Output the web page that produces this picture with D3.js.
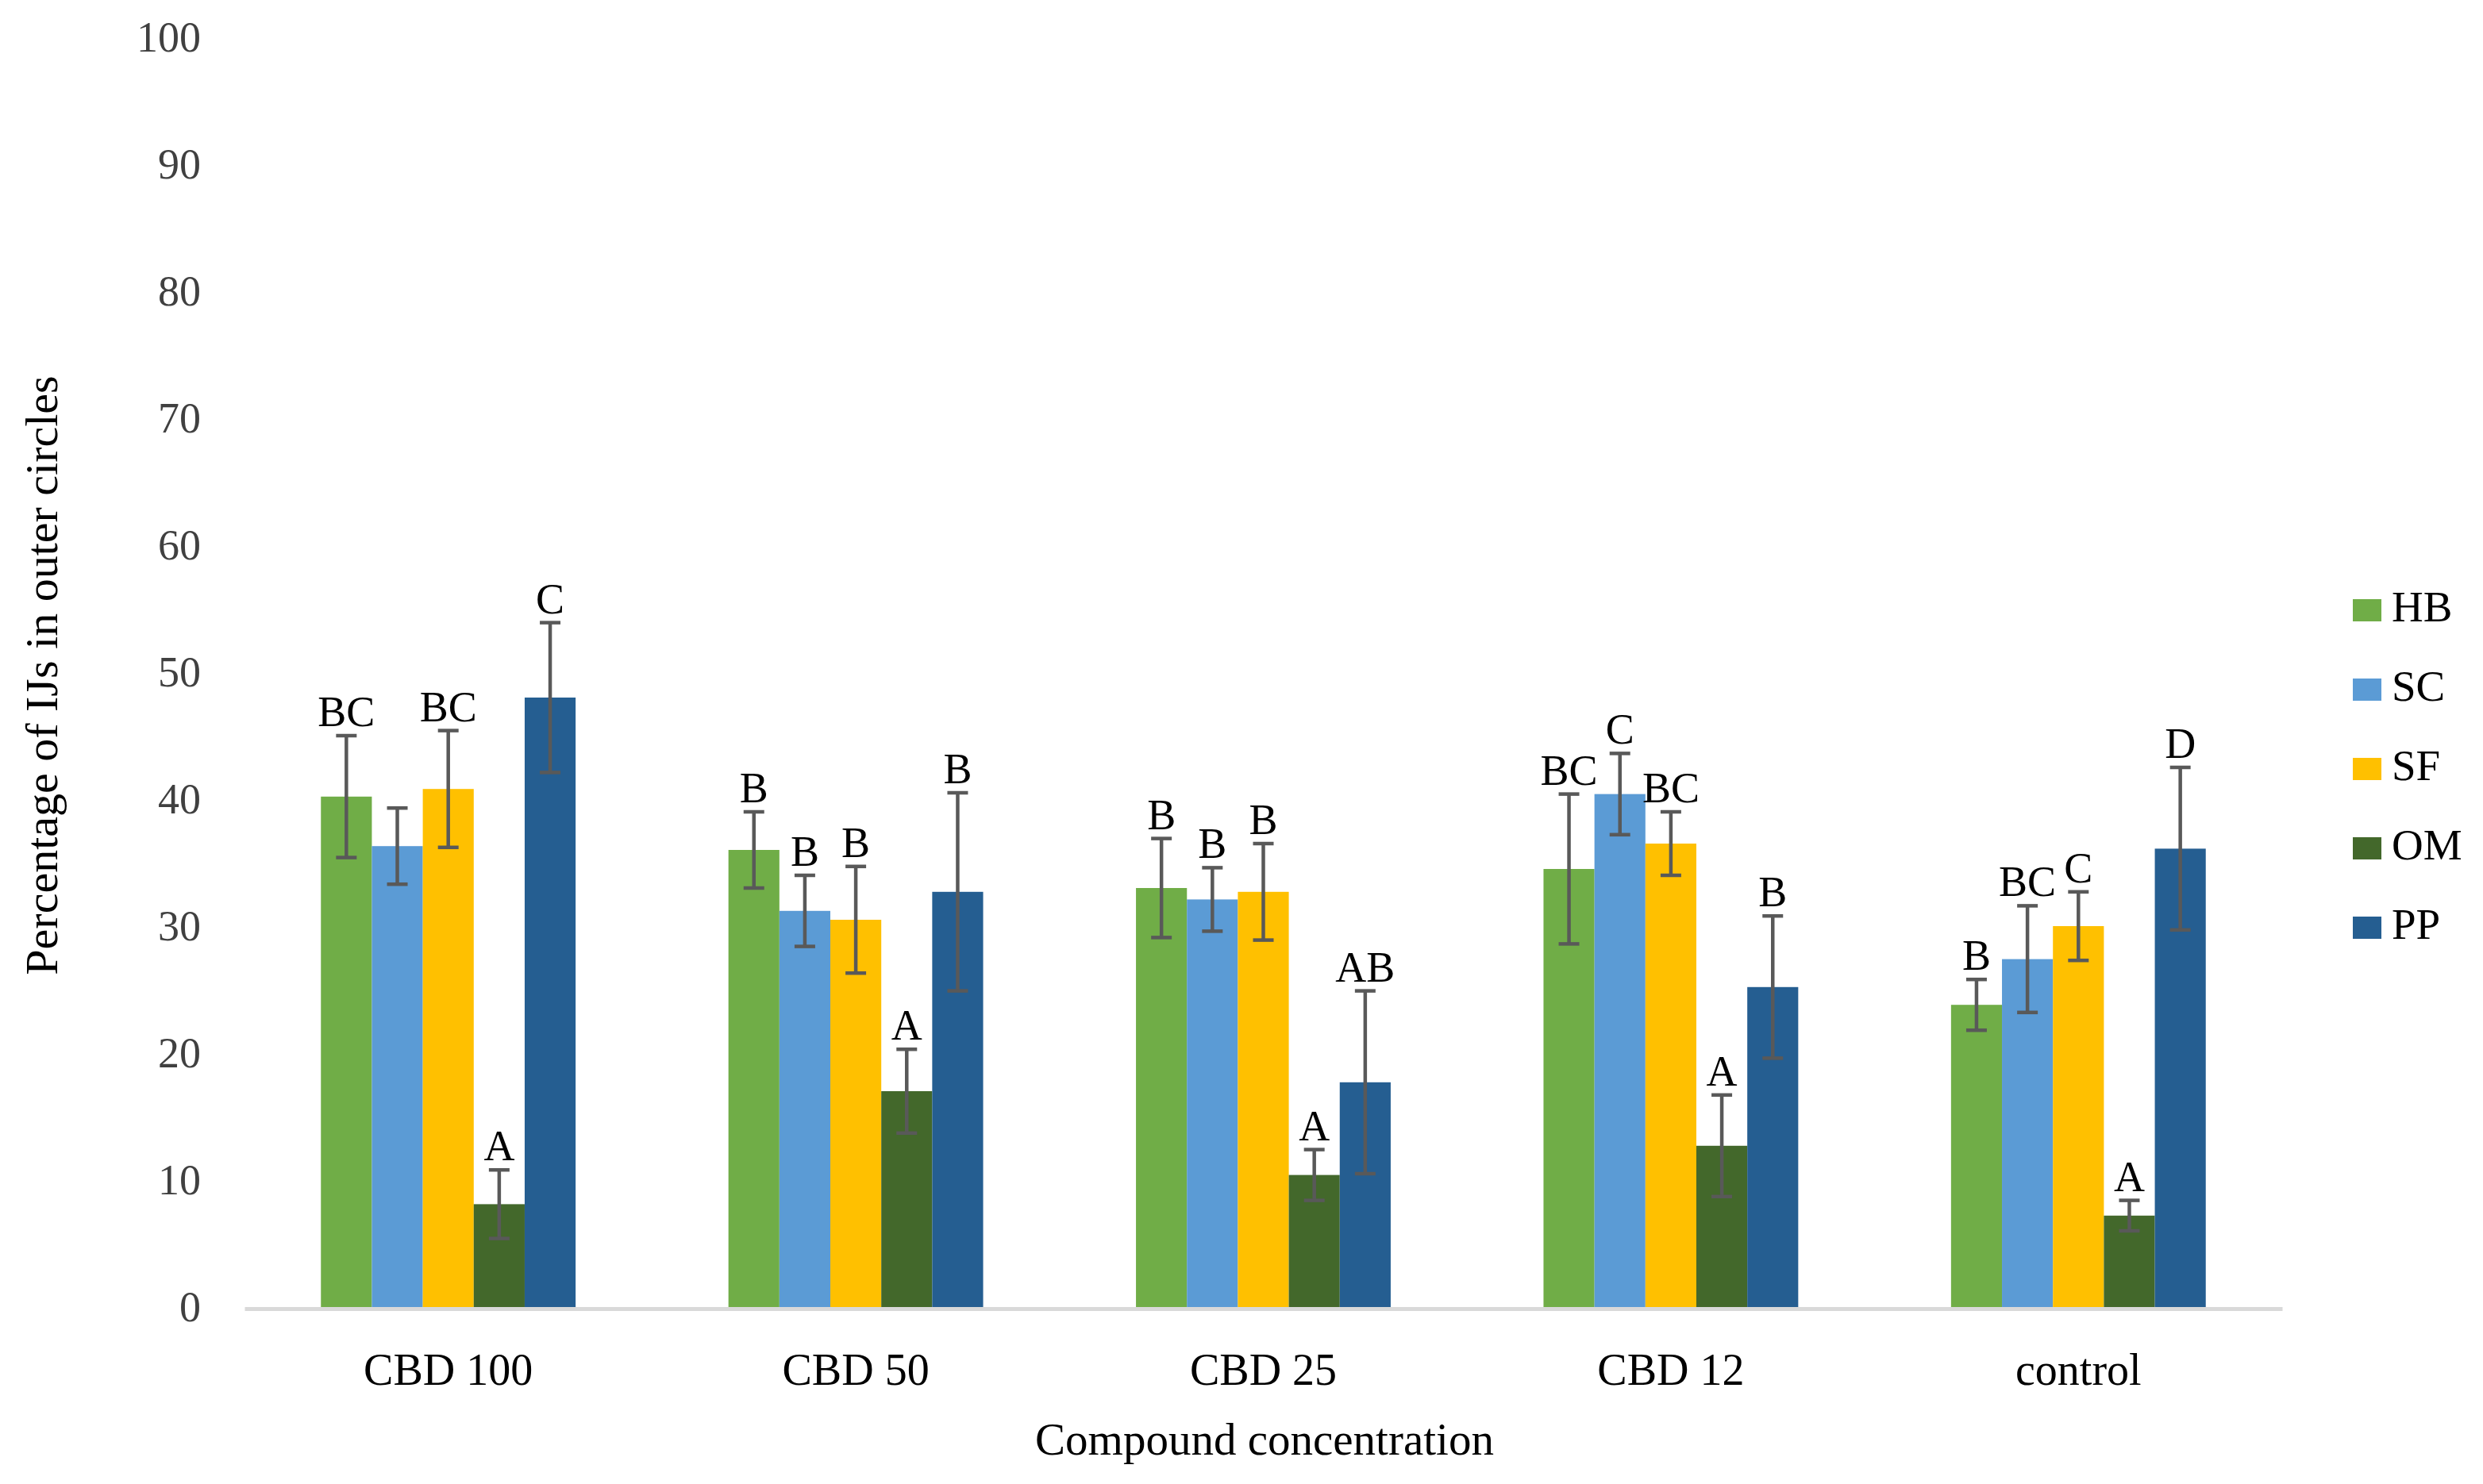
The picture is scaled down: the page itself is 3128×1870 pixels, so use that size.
<!DOCTYPE html>
<html lang="en">
<head>
    <meta charset="UTF-8">
    <title>Percentage of IJs in outer circles</title>
    <script src="https://d3js.org/d3.v7.min.js"></script>
    <style>
        body { margin: 0; background: #fff; }
        text { font-family: "Liberation Serif", "Times New Roman", serif; }
    </style>
</head>
<body>
    <div class="canvas"></div>
    <script>
        const width = 3128
        const height = 1870

        // data
        const categories = ['CBD 100', 'CBD 50', 'CBD 25', 'CBD 12', 'control']
        const seriesNames = ['HB', 'SC', 'SF', 'OM', 'PP']
        const colors = ['#70AD47', '#5B9BD5', '#FFC000', '#43682B', '#255E91']

        const HB = [40.2, 36.0, 33.0, 34.5, 23.8]
        const SC = [36.3, 31.2, 32.1, 40.4, 27.4]
        const SF = [40.8, 30.5, 32.7, 36.5, 30.0]
        const OM = [8.1, 17.0, 10.4, 12.7, 7.2]
        const PP = [48.0, 32.7, 17.7, 25.2, 36.1]

        const errHB = [4.8, 3.0, 3.9, 5.9, 2.0]
        const errSC = [3.0, 2.8, 2.5, 3.2, 4.2]
        const errSF = [4.6, 4.2, 3.8, 2.5, 2.7]
        const errOM = [2.7, 3.3, 2.0, 4.0, 1.2]
        const errPP = [5.9, 7.8, 7.2, 5.6, 6.4]

        const lettersHB = ['BC', 'B', 'B', 'BC', 'B']
        const lettersSC = ['', 'B', 'B', 'C', 'BC']
        const lettersSF = ['BC', 'B', 'B', 'BC', 'C']
        const lettersOM = ['A', 'A', 'A', 'A', 'A']
        const lettersPP = ['C', 'B', 'AB', 'B', 'D']

        const yTicks = [0, 10, 20, 30, 40, 50, 60, 70, 80, 90, 100]

        const values = [HB, SC, SF, OM, PP]
        const errors = [errHB, errSC, errSF, errOM, errPP]
        const letters = [lettersHB, lettersSC, lettersSF, lettersOM, lettersPP]

        // flat rows for the bars
        const rows = []
        categories.forEach((c, ci) => {
            seriesNames.forEach((s, si) => {
                rows.push({ cat: c, series: s, value: values[si][ci], err: errors[si][ci], letter: letters[si][ci], color: colors[si] })
            })
        })

        const svg = d3.select('.canvas')
                    .append('svg')
                    .attr('width', width)
                    .attr('height', height)

        const x0 = d3.scaleBand()
                    .domain(categories)
                    .range([308, 2875])
                    .paddingInner(0.375)
                    .paddingOuter(0.1875)

        const x1 = d3.scaleBand()
                    .domain(seriesNames)
                    .range([0, x0.bandwidth()])

        const y = d3.scaleLinear()
                    .domain([0, 100])
                    .range([1647, 47])

        // y axis labels only (no line, no ticks)
        const yAxis = d3.axisLeft(y)
                    .tickValues(yTicks)
                    .tickSize(0)
                    .tickPadding(0)
        const yAxisG = svg.append('g')
                    .attr('transform', 'translate(253, 0)')
                    .call(yAxis)
        yAxisG.select('.domain').remove()
        yAxisG.selectAll('text')
            .style('font-family', '"Liberation Serif", serif')
            .style('font-size', '54px')
            .attr('fill', '#404040')

        // bars
        svg.append('g')
            .selectAll('rect')
            .data(rows)
            .enter()
            .append('rect')
            .attr('x', d => x0(d.cat) + x1(d.series))
            .attr('y', d => y(d.value))
            .attr('width', x1.bandwidth())
            .attr('height', d => y(0) - y(d.value))
            .attr('fill', d => d.color)

        // x axis line
        const xAxis = d3.axisBottom(x0).tickSize(0).tickPadding(0)
        const xAxisG = svg.append('g')
                    .attr('transform', `translate(0, ${y(0) + 2})`)
                    .call(xAxis)
        xAxisG.select('.domain')
            .attr('stroke', '#d9d9d9')
            .attr('stroke-width', 5)
        xAxisG.selectAll('text')
            .attr('dy', null)
            .attr('y', 96)
            .style('font-family', '"Liberation Serif", serif')
            .style('font-size', '56px')
            .attr('fill', '#000')

        // error bars
        const eb = svg.append('g').attr('stroke', '#595959').attr('stroke-width', 4.5)
        const cx = d => x0(d.cat) + x1(d.series) + x1.bandwidth() / 2
        rows.forEach(d => {
            eb.append('line')
                .attr('x1', cx(d)).attr('x2', cx(d))
                .attr('y1', y(d.value + d.err)).attr('y2', y(d.value - d.err))
            ;[d.value + d.err, d.value - d.err].forEach(v => {
                eb.append('line')
                    .attr('x1', cx(d) - 13).attr('x2', cx(d) + 13)
                    .attr('y1', y(v)).attr('y2', y(v))
            })
        })

        // significance letters
        svg.append('g')
            .selectAll('text')
            .data(rows.filter(d => d.letter))
            .enter()
            .append('text')
            .attr('x', cx)
            .attr('y', d => y(d.value + d.err) - 12)
            .attr('text-anchor', 'middle')
            .style('font-size', '54px')
            .attr('fill', '#000')
            .text(d => d.letter)

        // axis titles
        svg.append('text')
            .attr('x', 1593)
            .attr('y', 1833)
            .attr('text-anchor', 'middle')
            .style('font-size', '57px')
            .text('Compound concentration')

        svg.append('text')
            .attr('transform', 'translate(72, 851) rotate(-90)')
            .attr('text-anchor', 'middle')
            .style('font-size', '58px')
            .text('Percentage of IJs in outer circles')

        // legend
        const legend = svg.append('g')
                    .selectAll('g')
                    .data(seriesNames)
                    .enter()
                    .append('g')
                    .attr('transform', (d, i) => `translate(2964, ${755 + i * 100})`)
        legend.append('rect')
            .attr('width', 36)
            .attr('height', 28)
            .attr('fill', (d, i) => colors[i])
        legend.append('text')
            .attr('x', 49)
            .attr('y', 28)
            .style('font-size', '55px')
            .attr('fill', '#000')
            .text(d => d)
    </script>
</body>
</html>
